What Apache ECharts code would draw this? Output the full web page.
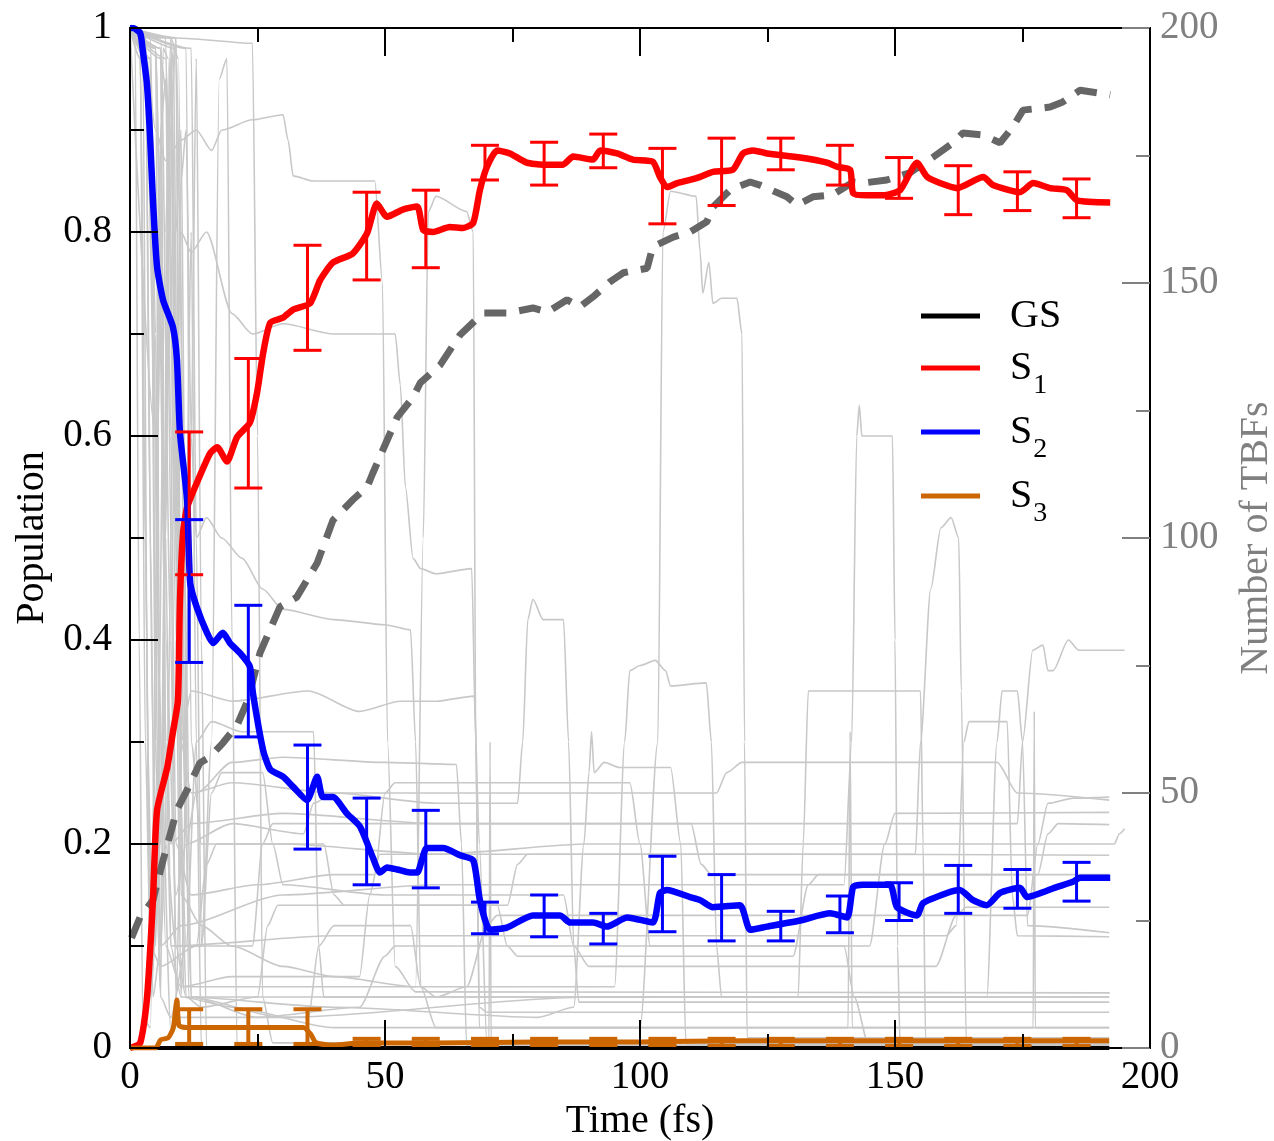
<!DOCTYPE html>
<html>
<head>
<meta charset="utf-8">
<script src="https://cdn.jsdelivr.net/npm/echarts@6/dist/echarts.min.js"></script>
<style>
html,body{margin:0;padding:0;background:#fff;}
#chart{width:1274px;height:1141px;}
</style>
</head>
<body>
<div id="chart"></div>
<script>
// ---------- DATA ----------
var xTicks = [0, 50, 100, 150, 200];
var yTicksLeft = [0, 0.2, 0.4, 0.6, 0.8, 1];
var yTicksRight = [0, 50, 100, 150, 200];

var gsLine = [[0,0],[50,0],[100,0],[150,0],[192,0]];

var s1Line = [[0,0],[2.0,0.005],[3.3,0.047],[4.5,0.145],[5.3,0.233],[7.3,0.275],[8.4,0.309],[9.4,0.341],[9.8,0.439],[10.4,0.505],[11.2,0.530],[13.1,0.554],[15.7,0.583],[17.1,0.589],[19.0,0.575],[21.0,0.599],[23.5,0.613],[24.9,0.642],[26.1,0.681],[27.5,0.711],[30.0,0.716],[32.0,0.724],[35.3,0.730],[37.3,0.753],[39.8,0.770],[43.7,0.779],[46.5,0.799],[48.4,0.828],[50.4,0.815],[53.5,0.822],[56.3,0.825],[57.5,0.802],[59.4,0.800],[62.7,0.805],[65.3,0.804],[67.3,0.809],[68.6,0.841],[70.0,0.864],[72.0,0.880],[74.5,0.877],[77.8,0.868],[81.0,0.866],[84.9,0.866],[86.9,0.874],[90.8,0.871],[92.2,0.880],[95.5,0.877],[98.6,0.871],[102.5,0.869],[103.9,0.854],[105.3,0.844],[107.3,0.848],[109.8,0.851],[111.8,0.854],[114.3,0.859],[118.2,0.861],[120.2,0.877],[122.2,0.880],[124.9,0.877],[131.4,0.873],[136.7,0.868],[138.6,0.864],[141.2,0.861],[141.8,0.838],[144.5,0.836],[147.6,0.836],[151.0,0.841],[154.3,0.868],[156.3,0.854],[158.8,0.848],[162.2,0.843],[167.3,0.854],[169.2,0.846],[174.5,0.839],[177.1,0.848],[180.4,0.843],[183.7,0.841],[185.7,0.831],[192.2,0.829]];

var s2Line = [[0,1.0],[0.6,1.0],[2.0,0.995],[2.5,0.978],[3.3,0.946],[3.9,0.897],[4.5,0.831],[5.3,0.766],[6.5,0.733],[8.4,0.707],[9.2,0.675],[9.8,0.603],[11.2,0.537],[11.8,0.456],[13.1,0.432],[15.1,0.407],[16.3,0.397],[18.2,0.407],[19.6,0.397],[21.6,0.387],[23.5,0.374],[24.1,0.348],[26.1,0.292],[27.5,0.273],[30.0,0.266],[32.0,0.256],[34.7,0.243],[36.7,0.266],[37.8,0.246],[39.8,0.246],[42.5,0.230],[45.1,0.217],[47.6,0.187],[49.0,0.172],[50.4,0.177],[52.4,0.175],[54.9,0.172],[56.3,0.172],[58.2,0.196],[61.4,0.196],[64.7,0.189],[67.3,0.184],[68.6,0.145],[70.6,0.116],[73.9,0.118],[79.0,0.130],[84.3,0.130],[86.3,0.123],[90.8,0.123],[93.5,0.119],[97.5,0.128],[102.5,0.123],[103.9,0.152],[105.3,0.155],[109.8,0.148],[111.8,0.145],[114.3,0.138],[119.6,0.140],[121.6,0.116],[124.9,0.119],[131.4,0.125],[137.3,0.132],[140.6,0.128],[141.8,0.158],[143.7,0.160],[149.0,0.160],[150.4,0.138],[154.3,0.130],[155.5,0.142],[160.2,0.152],[162.7,0.155],[165.3,0.145],[168.0,0.140],[170.6,0.152],[174.5,0.157],[175.9,0.148],[181.8,0.158],[184.9,0.163],[186.3,0.167],[192.2,0.167]];

var s3Line = [[0,0],[5,0],[6,0.008],[7.5,0.010],[8.5,0.020],[9.2,0.047],[9.6,0.022],[11,0.020],[20,0.020],[34,0.020],[35.5,0.013],[36.5,0.005],[40,0.003],[45,0.005],[60,0.005],[80,0.006],[100,0.006],[120,0.007],[150,0.007],[192,0.007]];

var tbfLine = [[0.3,21.6],[2.0,25.7],[4.5,29.0],[6.5,36.9],[9.2,46.7],[11.2,50.6],[13.7,55.9],[15.7,57.1],[18.2,59.8],[21.0,63.3],[23.1,68.2],[25.5,77.5],[29.4,86.5],[32.7,88.4],[36.7,95.1],[39.8,103.5],[43.7,107.5],[46.5,110.0],[47.6,112.7],[49.6,117.3],[52.4,123.7],[55.5,127.6],[56.9,130.4],[60.8,133.9],[64.7,139.8],[69.2,144.1],[73.9,144.1],[79.0,145.1],[81.8,144.3],[85.7,146.7],[88.2,145.3],[90.8,147.3],[94.1,150.2],[96.7,152.0],[101.4,152.9],[102.5,157.1],[106.5,159.0],[109.8,160.0],[113.1,162.0],[114.3,164.9],[117.6,168.2],[121.6,169.8],[123.5,169.2],[128.8,166.9],[130.8,165.3],[133.9,166.9],[137.8,167.3],[141.8,169.8],[143.7,169.6],[148.4,170.2],[152.9,171.6],[157.5,174.7],[161.4,177.5],[163.3,179.4],[167.3,179.0],[170.6,177.5],[173.1,180.6],[175.1,183.9],[180.4,184.5],[182.9,185.5],[186.3,187.8],[192.2,186.9]];

var errTimes = [11.6,23.2,34.8,46.4,58.0,69.6,81.2,92.8,104.4,116.0,127.6,139.2,150.8,162.4,174.0,185.6];
var s1Lo = [0.464,0.549,0.684,0.753,0.765,0.851,0.846,0.863,0.808,0.826,0.861,0.846,0.833,0.817,0.821,0.814];
var s1Hi = [0.604,0.676,0.787,0.839,0.841,0.885,0.888,0.896,0.882,0.892,0.892,0.885,0.873,0.865,0.859,0.852];
var s2Lo = [0.378,0.305,0.195,0.160,0.157,0.112,0.109,0.102,0.114,0.105,0.105,0.113,0.125,0.132,0.137,0.144];
var s2Hi = [0.518,0.434,0.297,0.245,0.233,0.143,0.150,0.132,0.188,0.170,0.134,0.149,0.162,0.179,0.175,0.182];
var s3Lo = [0.004,0.004,0.004,0.002,0.002,0.002,0.002,0.002,0.002,0.002,0.002,0.002,0.002,0.002,0.002,0.002];
var s3Hi = [0.038,0.038,0.038,0.009,0.009,0.009,0.009,0.009,0.009,0.009,0.009,0.009,0.009,0.009,0.009,0.009];
var gsLo = [0,0,0,0,0,0,0,0,0,0,0,0,0,0,0,0];
var gsHi = [0.001,0.001,0.001,0.001,0.001,0.001,0.001,0.001,0.001,0.001,0.001,0.001,0.001,0.001,0.001,0.001];

// individual trajectories (grey)
var traj01 = [[0,1],[3,0.98],[5,0.9],[7,0.87],[10,0.89],[13,0.9],[16,0.88],[18,0.9],[24,0.91],[30,0.915],[31,0.89],[32,0.855],[36,0.85],[48,0.85],[49.5,0.75],[50.5,0.3],[52,0.08],[56,0.055],[192,0.054]];
var traj02 = [[0,1],[10,0.99],[24,0.985],[25,0.6],[26,0.05],[28,0.005],[70.4,0.005],[70.6,0.3],[70.8,0.005],[192,0.005]];
var traj03 = [[0,1],[4,0.97],[5,0.4],[6,0.05],[7,0.5],[8,0.97],[9,0.6],[10,0.15],[14,0.12],[20,0.1],[30,0.08],[40,0.07],[56,0.06],[57.5,0.5],[58.5,0.82],[60,0.835],[66,0.82],[67.3,0.8],[67.8,0.3],[68.5,0.04],[70,0.035],[192,0.035]];
var traj04 = [[0,1],[5,0.98],[7,0.5],[8,0.1],[10,0.05],[20,0.04],[40,0.02],[60,0.02],[100,0.02],[103.5,0.3],[104.5,0.8],[106,0.84],[111,0.835],[111.8,0.78],[112.3,0.74],[113.5,0.77],[114.3,0.73],[116,0.735],[119,0.735],[120,0.7],[120.5,0.3],[121,0.01],[192,0.01]];
var traj05 = [[0,1],[6,0.97],[8,0.9],[9,0.6],[10,0.8],[12,0.78],[15,0.8],[20,0.72],[24,0.7],[30,0.71],[40,0.7],[52,0.7],[53,0.65],[54,0.55],[55.5,0.48],[57,0.47],[60,0.465],[67,0.47],[67.8,0.3],[68.5,0.02],[192,0.02]];
var traj06 = [[0,1],[7,0.97],[9,0.5],[10,0.85],[11,0.9],[12,0.6],[13,0.5],[15,0.52],[18,0.5],[22,0.48],[26,0.45],[30,0.43],[40,0.42],[50,0.415],[55,0.41],[56,0.3],[57,0.06],[60,0.05],[192,0.05]];
var traj07 = [[0,1],[5,0.98],[6,0.2],[7,0.6],[8,0.97],[9,0.5],[10,0.3],[12,0.35],[20,0.34],[35,0.35],[45,0.33],[53,0.34],[60,0.34],[67.5,0.345],[68.5,0.2],[70,0.003],[192,0.003]];
var traj08 = [[0,1],[8,0.99],[10,0.3],[12,0.25],[20,0.26],[40,0.25],[60,0.24],[76,0.24],[77,0.3],[78,0.42],[79,0.44],[81,0.42],[85,0.42],[86,0.3],[87,0.1],[88,0.045],[192,0.045]];
var traj09 = [[0,1],[2.5,0.98],[3.5,0.3],[4.5,0.05],[6,0.1],[7.5,0.9],[8.5,0.98],[9.5,0.5],[10.5,0.06],[30,0.06],[60,0.06],[95,0.06],[97,0.3],[98,0.37],[100,0.375],[103,0.38],[105,0.37],[106,0.355],[113,0.358],[114,0.3],[115,0.1],[116,0.05],[192,0.05]];
var traj10 = [[0,1],[6,0.99],[8,0.4],[9,0.1],[11,0.05],[40,0.04],[80,0.03],[87,0.04],[89,0.2],[90,0.27],[90.5,0.31],[91,0.27],[93,0.28],[96,0.275],[106,0.275],[108,0.2],[109,0.004],[192,0.004]];
var traj11 = [[0,1],[9,0.99],[10,0.4],[11,0.2],[13,0.25],[20,0.28],[30,0.285],[50,0.28],[64,0.278],[65,0.2],[66,0.002],[192,0.002]];
var traj12 = [[0,1],[4,0.97],[5,0.3],[6,0.1],[10,0.12],[30,0.15],[60,0.16],[100,0.16],[140,0.16],[141.5,0.3],[142.5,0.6],[143,0.63],[143.5,0.6],[146,0.6],[149.5,0.6],[150,0.4],[150.5,0.1],[151,0.003],[192,0.003]];
var traj13 = [[0,1],[11,0.98],[12,0.3],[14,0.2],[30,0.2],[60,0.19],[100,0.19],[150,0.19],[154,0.19],[155,0.3],[157,0.45],[159,0.51],[161,0.52],[162.5,0.5],[163,0.35],[164,0.001],[192,0.001]];
var traj14 = [[0,1],[3,0.99],[4,0.5],[5,0.1],[7,0.8],[8,0.99],[9.5,0.97],[11,0.2],[12,0.05],[50,0.05],[100,0.05],[131,0.05],[132,0.2],[133,0.35],[137,0.35],[150,0.35],[155,0.35],[155.5,0.2],[156,0.006],[192,0.006]];
var traj15 = [[0,1],[6,0.98],[7,0.3],[8,0.2],[12,0.22],[30,0.23],[60,0.22],[100,0.22],[140,0.22],[174,0.22],[175,0.3],[177,0.39],[179,0.395],[180,0.37],[181,0.37],[184,0.4],[186,0.39],[192,0.39],[195,0.39]];
var traj16 = [[0,1],[5,0.6],[6,0.9],[7,0.3],[8,0.1],[40,0.11],[100,0.11],[160,0.11],[162,0.12],[163.5,0.3],[164.5,0.32],[172,0.32],[173,0.15],[174,0.11],[192,0.109]];
var traj17 = [[0,1],[2,0.98],[3,0.5],[4,0.05],[6,0.2],[8,0.9],[9,0.99],[10.5,0.6],[11.5,0.05],[30,0.03],[90,0.05],[168,0.05],[170,0.3],[171,0.35],[174,0.35],[175,0.3],[176,0.12],[192,0.113]];
var traj18 = [[0,1],[3,0.97],[4.5,0.3],[6,0.05],[8,0.03],[11,0.1],[13,0.3],[16,0.32],[22,0.31],[30,0.31],[36,0.31],[37,0.1],[38,0.05],[60,0.05],[66,0.06],[70,0.12],[72,0.13],[130,0.13],[176,0.13],[178,0.2],[180,0.24],[185,0.245],[192,0.246]];
var traj19 = [[0,1],[5,0.98],[7,0.4],[9,0.15],[11,0.2],[20,0.22],[34,0.21],[36,0.24],[40,0.25],[60,0.25],[115,0.25],[117,0.27],[120,0.28],[170,0.28],[174,0.25],[192,0.243]];
var traj20 = [[0,1],[7,0.99],[8,0.6],[9,0.2],[12,0.15],[25,0.16],[40,0.17],[48,0.17],[50,0.25],[52,0.26],[80,0.26],[98,0.26],[100,0.2],[102,0.1],[145,0.1],[148,0.2],[150,0.23],[192,0.231]];
var traj21 = [[0,1],[8,0.99],[9.5,0.3],[11,0.1],[24,0.1],[26,0.2],[28,0.22],[70,0.22],[110,0.22],[112,0.18],[114,0.17],[178,0.17],[180,0.21],[182,0.22],[192,0.219]];
var traj22 = [[0,1],[4,0.97],[5.5,0.4],[7,0.1],[10,0.06],[20,0.07],[45,0.07],[47,0.15],[49,0.19],[60,0.19],[90,0.2],[150,0.2],[193,0.2],[194,0.21],[195,0.215]];
var traj23 = [[0,1],[2,0.97],[3,0.3],[4,0.1],[6,0.08],[13,0.1],[15,0.18],[17,0.2],[38,0.2],[40,0.15],[42,0.14],[74,0.14],[76,0.18],[78,0.19],[130,0.19],[192,0.189]];
var traj24 = [[0,1],[9,0.98],[10,0.2],[11,0.05],[14,0.04],[25,0.05],[27,0.12],[29,0.14],[72,0.14],[74,0.1],[76,0.09],[130,0.09],[133,0.16],[135,0.17],[192,0.17]];
var traj25 = [[0,1],[6,0.98],[7,0.2],[9,0.1],[14,0.1],[16,0.25],[18,0.27],[26,0.27],[28,0.2],[30,0.16],[50,0.15],[85,0.15],[87,0.1],[90,0.08],[158,0.08],[162,0.13],[164,0.138],[192,0.138]];
var traj26 = [[0,1],[3,0.99],[5,0.6],[6,0.3],[8,0.02],[10,0.03],[35,0.03],[37,0.1],[40,0.12],[55,0.12],[57,0.06],[60,0.02],[140.8,0.02],[141.2,0.31],[141.6,0.02],[177.1,0.02],[177.3,0.33],[177.5,0.02],[192,0.02]];
var traj27 = [[0,1],[2,0.97],[3,0.5],[4,0.1],[5,0.3],[6,0.9],[7,0.95],[8,0.5],[9,0.05],[11,0.5],[12,0.8],[13,0.3],[14,0.0],[192,0.0]];
var traj28 = [[0,1],[4,0.99],[5,0.7],[6,0.1],[7,0.2],[9,0.8],[10,0.9],[11,0.4],[12,0.05],[25,0.03],[45,0.04],[50,0.09],[52,0.1],[140,0.1],[142,0.05],[145,0.0],[192,0.0]];
var traj29 = [[0,1],[1,0.99],[1.8,0.4],[2.5,0.03],[4,0.02],[5.5,0.6],[6.5,0.98],[7.5,0.97],[9,0.4],[10,0.05],[12,0.6],[13,0.97],[14,0.4],[15,0.001],[192,0.001]];
var traj30 = [[0,1],[12,0.98],[13,0.5],[14,0.1],[16,0.3],[17.5,0.95],[19,0.97],[20,0.4],[21,0.001],[192,0.001]];

var trajectories = [traj01,traj02,traj03,traj04,traj05,traj06,traj07,traj08,traj09,traj10,traj11,traj12,traj13,traj14,traj15,traj16,traj17,traj18,traj19,traj20,traj21,traj22,traj23,traj24,traj25,traj26,traj27,traj28,traj29,traj30];

// ---------- CHART ----------
var FONT = 'Liberation Serif';
var chart = echarts.init(document.getElementById('chart'), null, {renderer:'canvas'});

function zipErr(lo, hi){ return errTimes.map(function(t,i){ return [t, lo[i], hi[i]]; }); }
function errSeries(name, lo, hi, color, width, z){
  return {
    type:'custom', name: name + '_err', xAxisIndex:0, yAxisIndex:0, z:z, silent:true,
    data: zipErr(lo, hi), encode:{x:0, y:[1,2]},
    renderItem: function(params, api){
      var t = api.value(0);
      var pHi = api.coord([t, api.value(2)]);
      var pLo = api.coord([t, api.value(1)]);
      var hw = 14;
      var st = {stroke: color, lineWidth: width};
      return {type:'group', children:[
        {type:'line', shape:{x1:pHi[0], y1:pHi[1], x2:pLo[0], y2:pLo[1]}, style:st},
        {type:'line', shape:{x1:pHi[0]-hw, y1:pHi[1], x2:pHi[0]+hw, y2:pHi[1]}, style:st},
        {type:'line', shape:{x1:pLo[0]-hw, y1:pLo[1], x2:pLo[0]+hw, y2:pLo[1]}, style:st}
      ]};
    }
  };
}

var series = [];
trajectories.forEach(function(d, i){
  series.push({type:'line', name:'traj'+(i+1), data:d, showSymbol:false, silent:true, z:1,
    lineStyle:{color:'#c8c8c8', width:1.6}, smooth:0.25, smoothMonotone:'x'});
});
series.push({type:'line', name:'TBFs', yAxisIndex:1, data:tbfLine, showSymbol:false, z:2,
  lineStyle:{color:'#666666', width:7, type:[22,13], cap:'butt'}});
series.push({type:'line', name:'GS', data:gsLine, showSymbol:false, z:3, lineStyle:{color:'#000000', width:4}, itemStyle:{color:'#000000'}});
series.push({type:'line', name:'S1', data:s1Line, showSymbol:false, z:4, smooth:0.2, lineStyle:{color:'#ff0000', width:6.5}, itemStyle:{color:'#ff0000'}});
series.push({type:'line', name:'S2', data:s2Line, showSymbol:false, z:5, smooth:0.2, lineStyle:{color:'#0000ff', width:6.5}, itemStyle:{color:'#0000ff'}});
series.push({type:'line', name:'S3', data:s3Line, showSymbol:false, z:6, smooth:0.2, lineStyle:{color:'#cc6600', width:5}, itemStyle:{color:'#cc6600'}});
series.push(errSeries('GS', gsLo, gsHi, '#000000', 3, 3));
series.push(errSeries('S1', s1Lo, s1Hi, '#ff0000', 3, 7));
series.push(errSeries('S2', s2Lo, s2Hi, '#0000ff', 3, 7));
series.push(errSeries('S3', s3Lo, s3Hi, '#cc6600', 4, 7));

var axisTickCommon = {show:true, inside:true, length:28, lineStyle:{color:'#000', width:2}};
var minorCommon = {show:true, splitNumber:2, length:14, lineStyle:{color:'#000', width:2}};

var option = {
  backgroundColor:'#ffffff',
  animation:false,
  grid:{left:130, right:124, top:28, bottom:93, containLabel:false, outerBoundsMode:'none',
        show:true, borderColor:'#000', borderWidth:2, backgroundColor:'transparent', z:10},
  legend:{
    data:['GS','S1','S2','S3'],
    orient:'vertical', left:921, top:296, padding:0,
    itemWidth:59, itemHeight:5, itemGap:12, icon:'rect',
    selectedMode:false,
    formatter:function(name){ return name==='GS' ? '{m|GS}' : '{m|S}{sub|' + name.slice(1) + '}'; },
    textStyle:{padding:[0,0,0,25], rich:{
      m:{fontFamily:FONT, fontSize:40, color:'#000', lineHeight:44, verticalAlign:'middle'},
      sub:{fontFamily:FONT, fontSize:28, color:'#000', lineHeight:44, verticalAlign:'bottom', padding:[0,0,-10,1]}
    }}
  },
  xAxis:[
    {type:'value', position:'bottom', z:20, min:xTicks[0], max:xTicks[xTicks.length-1], interval:xTicks[1]-xTicks[0],
     name:'Time (fs)', nameLocation:'middle', nameGap:50,
     nameTextStyle:{fontFamily:FONT, fontSize:40, color:'#000'},
     axisLine:{show:true, onZero:false, lineStyle:{color:'#000', width:2}},
     axisTick:axisTickCommon, minorTick:minorCommon, splitLine:{show:false},
     axisLabel:{fontFamily:FONT, fontSize:39, color:'#000', margin:10}},
    {type:'value', position:'top', z:20, min:xTicks[0], max:xTicks[xTicks.length-1], interval:xTicks[1]-xTicks[0],
     axisLine:{show:true, onZero:false, lineStyle:{color:'#000', width:2}},
     axisTick:axisTickCommon, minorTick:minorCommon, splitLine:{show:false},
     axisLabel:{show:false}}
  ],
  yAxis:[
    {type:'value', position:'left', z:20, min:yTicksLeft[0], max:yTicksLeft[yTicksLeft.length-1], interval:0.2,
     name:'Population', nameLocation:'middle', nameGap:78,
     nameTextStyle:{fontFamily:FONT, fontSize:40, color:'#000'},
     axisLine:{show:true, onZero:false, lineStyle:{color:'#000', width:2}},
     axisTick:axisTickCommon, minorTick:minorCommon, splitLine:{show:false},
     axisLabel:{fontFamily:FONT, fontSize:39, color:'#000', margin:18}},
    {type:'value', position:'right', z:20, min:yTicksRight[0], max:yTicksRight[yTicksRight.length-1], interval:50,
     name:'Number of TBFs', nameLocation:'middle', nameGap:86,
     nameTextStyle:{fontFamily:FONT, fontSize:40, color:'#808080'},
     axisLine:{show:true, onZero:false, lineStyle:{color:'#000', width:2}},
     axisTick:{show:true, inside:true, length:28, lineStyle:{color:'#808080', width:2}},
     minorTick:{show:true, splitNumber:2, length:14, lineStyle:{color:'#808080', width:2}},
     splitLine:{show:false},
     axisLabel:{fontFamily:FONT, fontSize:39, color:'#808080', margin:10}}
  ],
  series: series
};
chart.setOption(option);
</script>
</body>
</html>
